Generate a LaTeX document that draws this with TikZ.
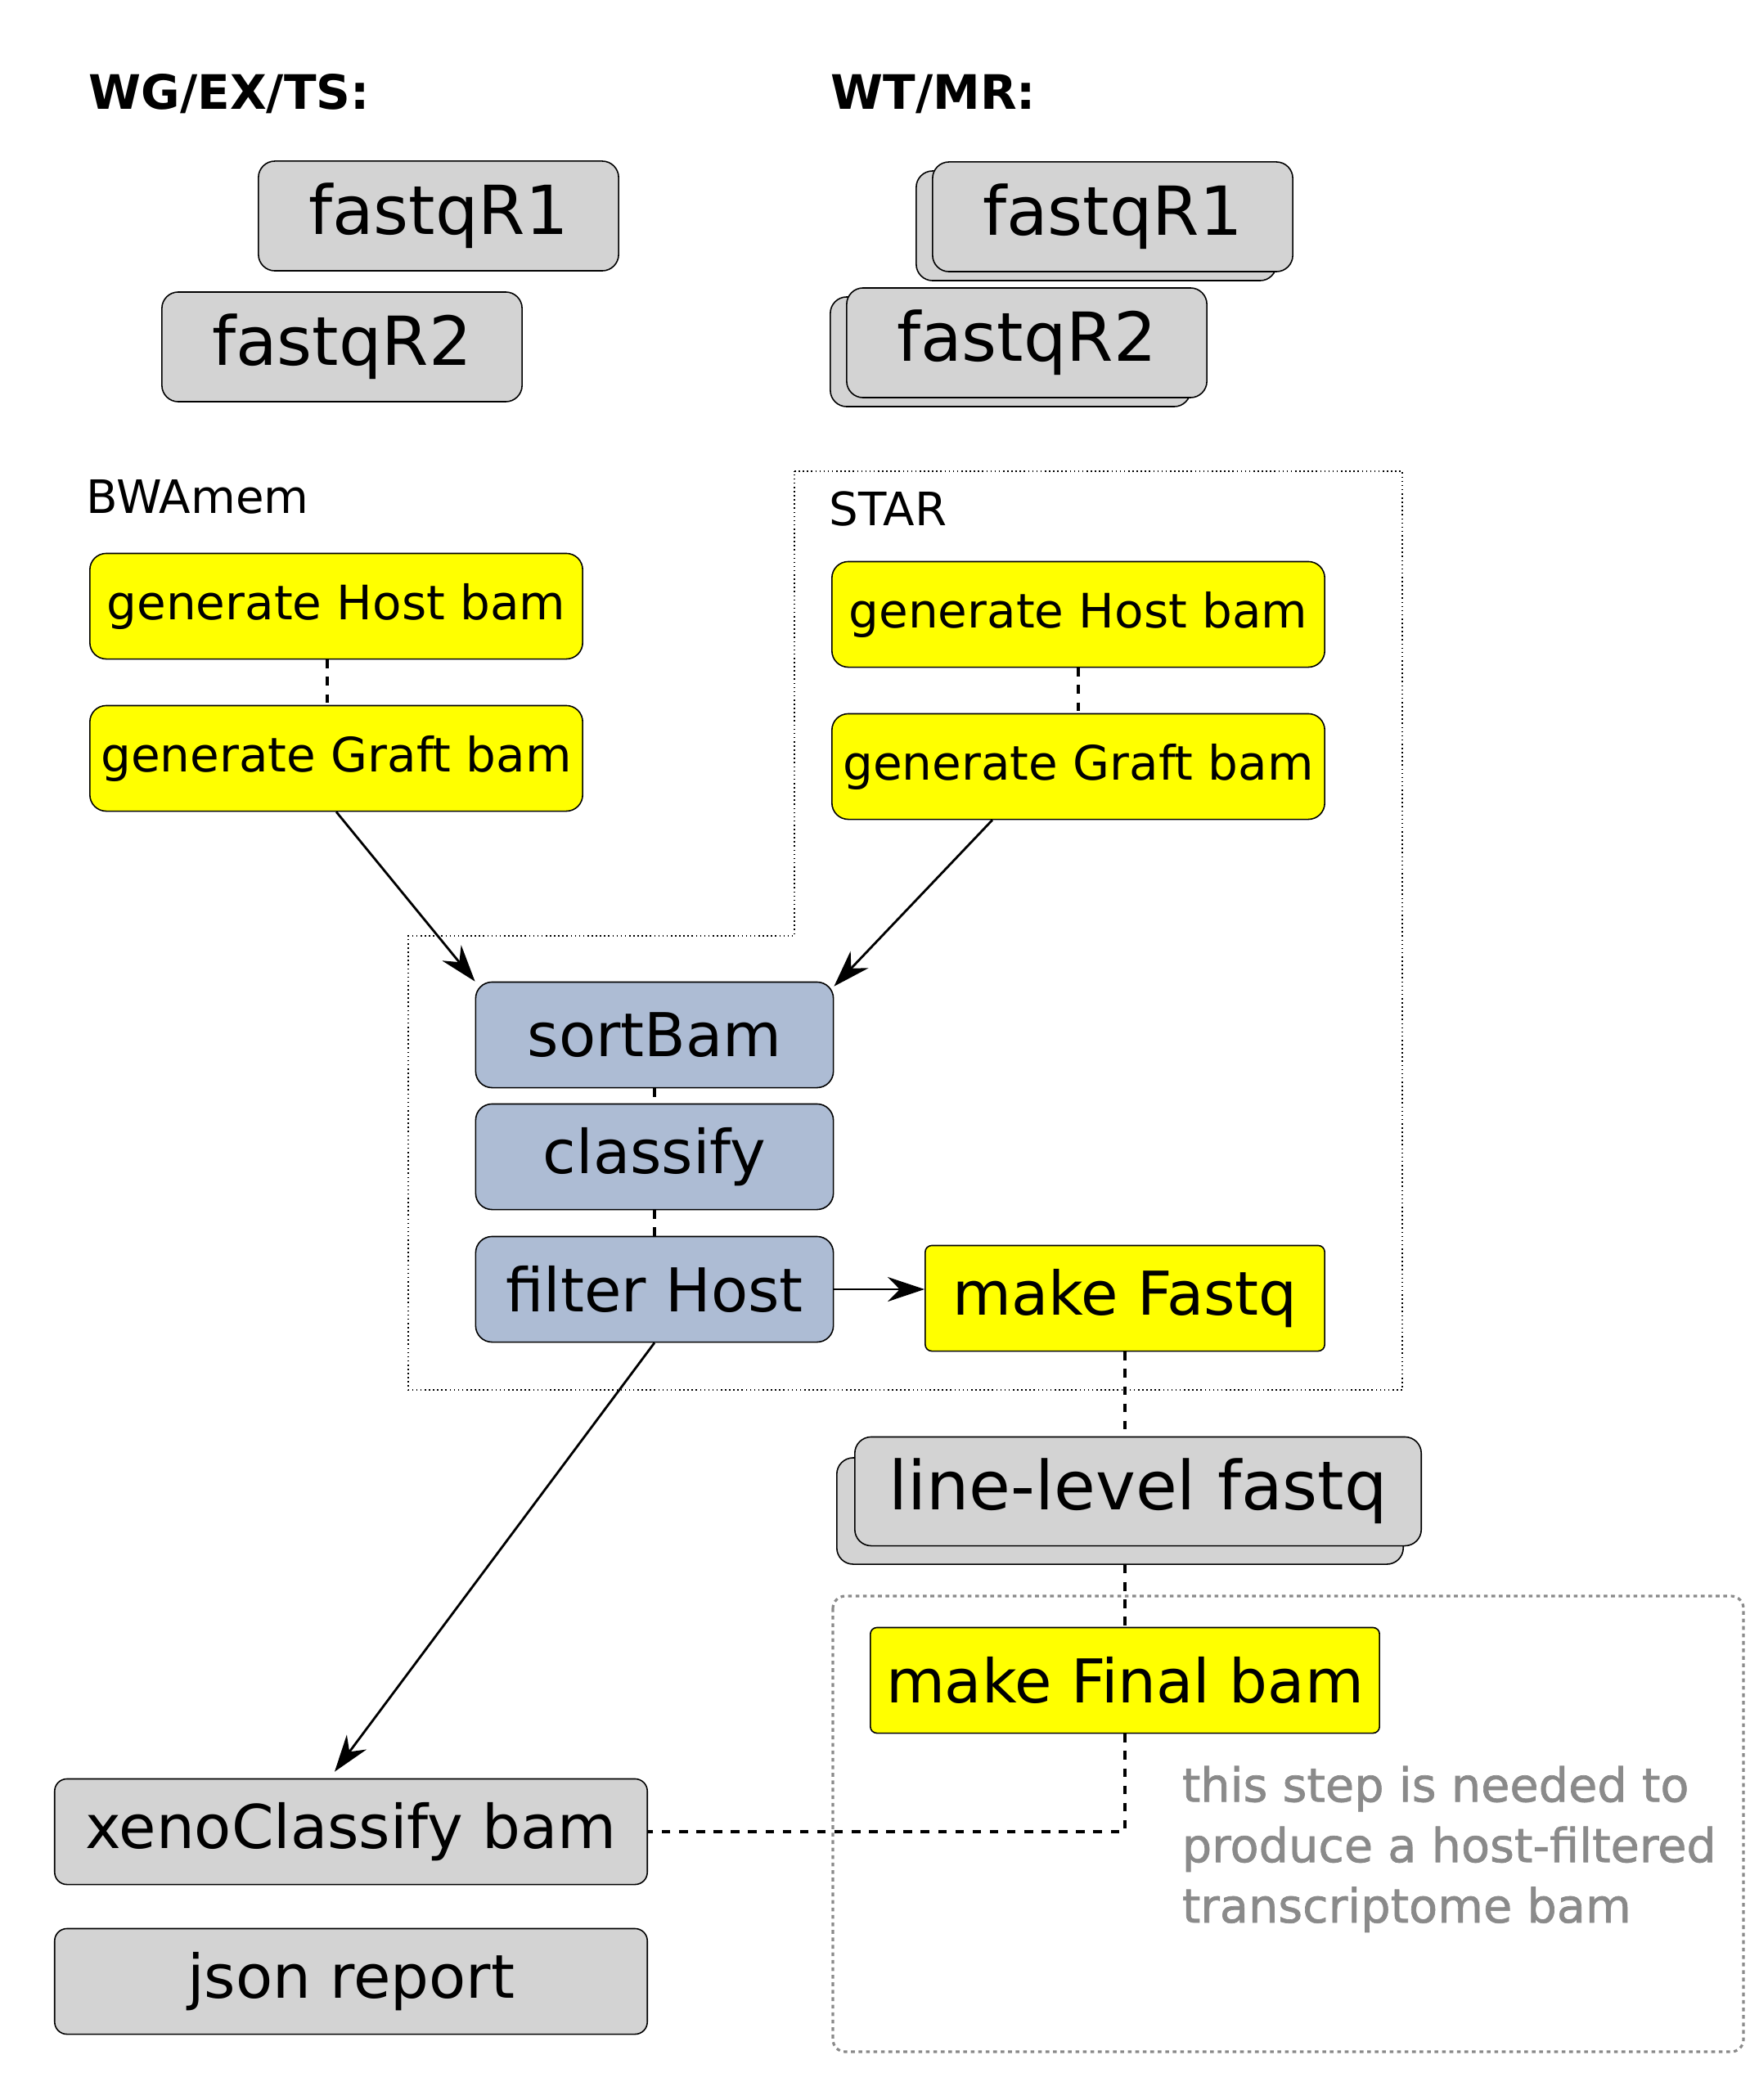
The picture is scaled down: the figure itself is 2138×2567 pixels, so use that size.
\documentclass[tikz,border=0pt]{standalone}
\usepackage{fontspec}
\setmainfont{DejaVu Sans}
\newfontfamily\notefont{DejaVu Sans}[FakeBold=1.2]
\usetikzlibrary{arrows.meta}

\definecolor{filegray}{HTML}{D3D3D3}
\definecolor{stepblue}{HTML}{ADBCD4}
\definecolor{notegray}{HTML}{8A8A8A}
\definecolor{genyellow}{HTML}{FFFF00}

\begin{document}
\begin{tikzpicture}[
    x=0.01cm, y=-0.01cm,
    every node/.style={draw, align=center, inner sep=0pt, line width=0.45pt},
    filebox/.style={fill=filegray, rounded corners=0.2cm, minimum width=4.4cm, minimum height=1.34cm, font=\fontsize{23.5pt}{28pt}\selectfont},
    genbox/.style={fill=genyellow, rounded corners=0.2cm, minimum width=6.02cm, minimum height=1.29cm, font=\fontsize{16.5pt}{20pt}\selectfont},
    stepbox/.style={fill=stepblue, rounded corners=0.2cm, minimum width=4.37cm, minimum height=1.29cm, font=\fontsize{21pt}{25pt}\selectfont},
    makebox/.style={fill=genyellow, rounded corners=0.08cm, minimum height=1.29cm, font=\fontsize{21pt}{25pt}\selectfont},
    outbox/.style={fill=filegray, rounded corners=0.15cm, minimum width=7.24cm, minimum height=1.29cm, font=\fontsize{21pt}{25pt}\selectfont},
    header/.style={draw=none, anchor=base west, font=\fontsize{16.5pt}{20pt}\selectfont\bfseries},
    tool/.style={draw=none, anchor=base west, font=\fontsize{16pt}{20pt}\selectfont},
    link/.style={dashed, line width=0.9pt},
    flow/.style={-{Stealth[length=0.45cm, width=0.3cm]}, line width=0.8pt}
  ]
    \useasboundingbox (0,0) rectangle (2138,2567);

    % headers
    \node[header] (wgex) at (108,134) {WG/EX/TS:};
    \node[header] (wtmr) at (1015,134) {WT/MR:};

    % input fastq
    \node[filebox] (lr1) at (536,264) {fastqR1};
    \node[filebox] (lr2) at (418,424) {fastqR2};
    \node[filebox] (rr1back) at (1340,276) {};
    \node[filebox] (rr1) at (1360,265) {fastqR1};
    \node[filebox] (rr2back) at (1235,430) {};
    \node[filebox] (rr2) at (1255,419) {fastqR2};

    % aligners
    \node[tool] (bwa) at (105,627) {BWAmem};
    \node[tool] (star) at (1013,642) {STAR};
    \draw[densely dotted, line width=0.45pt] (971,576) -- (1714,576) -- (1714,1699) -- (499,1699) -- (499,1144) -- (971,1144) -- cycle;

    \node[genbox] (lhost) at (411,741) {generate Host bam};
    \node[genbox] (lgraft) at (411,927) {generate Graft bam};
    \node[genbox] (rhost) at (1318,751) {generate Host bam};
    \node[genbox] (rgraft) at (1318,937) {generate Graft bam};

    % xenograft steps
    \node[stepbox] (sortbam) at (800,1265) {sortBam};
    \node[stepbox] (classify) at (800,1414) {classify};
    \node[stepbox] (filter) at (800,1576) {filter Host};
    \node[makebox, minimum width=4.88cm] (makefq) at (1375,1587) {make Fastq};

    \node[filebox, minimum width=6.92cm, minimum height=1.3cm] (llback) at (1369,1847) {};
    \node[filebox, minimum width=6.92cm, minimum height=1.33cm] (llfq) at (1391,1823) {line-level fastq};

    % WT/MR only
    \draw[notegray, line width=0.9pt, dash pattern=on 1.3pt off 1.3pt, rounded corners=0.15cm] (1018,1951) rectangle (2131,2508);
    \node[makebox, minimum width=6.22cm] (mkfinal) at (1375,2054) {make Final bam};
    \node[draw=none, anchor=north west, align=left, text=notegray, font=\notefont\fontsize{16.3pt}{21pt}\selectfont] (note) at (1444,2158) {this step is needed to\\produce a host-filtered\\transcriptome bam};

    % outputs
    \node[outbox] (xeno) at (429,2239) {xenoClassify bam};
    \node[outbox] (json) at (429,2422) {json report};

    \draw[link] ([xshift=-0.11cm]lhost.south) -- ([xshift=-0.11cm]lgraft.north);
    \draw[link] (rhost) -- (rgraft);
    \draw[link] (sortbam) -- (classify);
    \draw[link] (classify) -- (filter);
    \draw[link] (makefq.south) -- (makefq.south |- llfq.north);
    \draw[link] (makefq.south |- llback.south) -- (makefq.south |- mkfinal.north);
    \draw[link] (mkfinal.south) |- (xeno.east);

    \draw[flow] (lgraft.south) -- (sortbam.north west);
    \draw[flow] ([xshift=-1.05cm]rgraft.south) -- ([yshift=-0.06cm]sortbam.north east);
    \draw[flow] (filter.east) -- (filter.east -| makefq.west);
    \draw[flow] (filter.south) -- ([xshift=-0.2cm, yshift=0.08cm]xeno.north);
  \end{tikzpicture}
\end{document}
